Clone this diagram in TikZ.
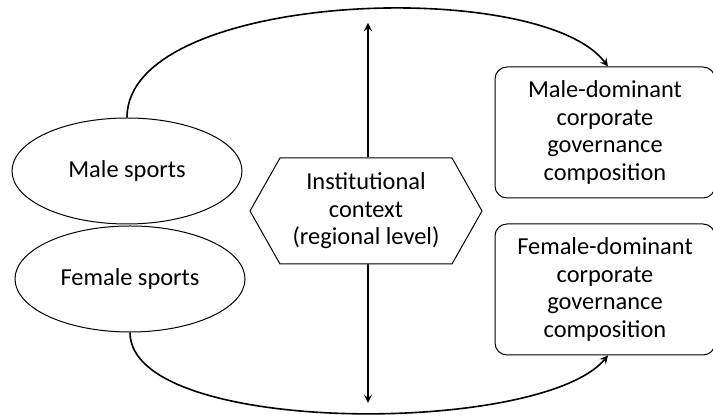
\documentclass[tikz,border=0pt]{standalone}
\usepackage{fontspec}
\setmainfont{Carlito}
\usetikzlibrary{shapes.geometric,shapes.symbols}

\tikzset{
    sport/.style={draw, ellipse, line width=0.5pt, minimum width=115pt, minimum height=53pt, inner sep=0pt},
    context/.style={draw, signal, signal to=east and west, signal pointer angle=121, line width=0.5pt,
        minimum width=116pt, minimum height=53pt, align=center, inner sep=1pt},
    govbox/.style={draw, rounded corners=6pt, line width=0.5pt, minimum width=110pt, minimum height=65.5pt,
        align=center, inner sep=0pt},
    link/.style={->, line width=0.8pt}
}

\begin{document}
\begin{tikzpicture}[x=0.5pt, y=0.5pt, >=stealth, font=\fontsize{12.2}{13.7}\selectfont]

        \useasboundingbox (0,0) rectangle (713,416);

        % left: the two kinds of sport
        \node[sport] at (127,245) (male) {Male sports};
        \node[sport] at (130,137) (female) {Female sports};

        % middle: the moderating context
        \node[context] at (366,205) (context) {Institutional\\context\\(regional level)};
        \coordinate (ctxtop) at (368,393);
        \coordinate (ctxbot) at (368,13);

        % right: board composition (box runs slightly past the edge)
        \node[govbox] at (605,283.5) (maledom) {Male-dominant\\corporate\\governance\\composition};
        \node[govbox] at (605,126.5) (femaledom) {Female-dominant\\corporate\\governance\\composition};

        \draw[link] (context.north -| ctxtop) -- (ctxtop);
        \draw[link] (context.south -| ctxbot) -- (ctxbot);
        \draw[link] (male.north) .. controls (127,425) and (540,440) .. ([xshift=1.5pt]maledom.north);
        \draw[link] (female.south) .. controls (130,-20) and (540,-20) .. ([xshift=1.5pt]femaledom.south);

    \end{tikzpicture}
\end{document}
